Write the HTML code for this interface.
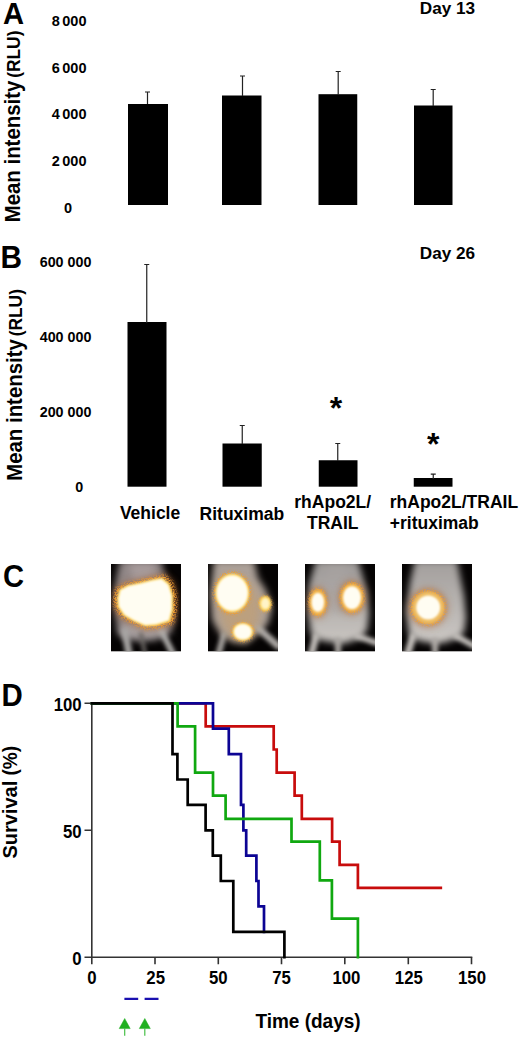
<!DOCTYPE html>
<html><head><meta charset="utf-8">
<style>
html,body{margin:0;padding:0;background:#fff;}
body{width:520px;height:1042px;overflow:hidden;}
svg{display:block;}
text{font-family:"Liberation Sans",sans-serif;font-weight:bold;fill:#000;}
</style></head><body>
<svg width="520" height="1042" viewBox="0 0 520 1042">
<defs>
<filter id="b1" x="-50%" y="-50%" width="200%" height="200%"><feGaussianBlur stdDeviation="1"/></filter>
<filter id="b2" x="-50%" y="-50%" width="200%" height="200%"><feGaussianBlur stdDeviation="2"/></filter>
<filter id="b3" x="-50%" y="-50%" width="200%" height="200%"><feGaussianBlur stdDeviation="3.5"/></filter>
<filter id="b5" x="-50%" y="-50%" width="200%" height="200%"><feGaussianBlur stdDeviation="5"/></filter>
<filter id="spk" x="-30%" y="-30%" width="160%" height="160%">
<feTurbulence type="fractalNoise" baseFrequency="0.75" numOctaves="1" seed="7" result="n"/>
<feColorMatrix in="n" type="matrix" values="0 0 0 0 0  0 0 0 0 0  0 0 0 0 0  5 0 0 0 -2" result="m"/>
<feGaussianBlur in="SourceGraphic" stdDeviation="1.8" result="g"/>
<feComposite in="g" in2="m" operator="in" result="sp"/>
<feGaussianBlur in="sp" stdDeviation="0.45"/>
</filter>
<linearGradient id="gb3" x1="0" y1="0" x2="0" y2="1"><stop offset="0" stop-color="#9c9896"/><stop offset="0.5" stop-color="#b2aeab"/><stop offset="1" stop-color="#cac6c2"/></linearGradient>
<linearGradient id="gb4" x1="0" y1="0" x2="0" y2="1"><stop offset="0" stop-color="#a29e9c"/><stop offset="0.5" stop-color="#b6b2af"/><stop offset="1" stop-color="#ccc8c4"/></linearGradient>
</defs>

<!-- ============ PANEL A ============ -->
<text transform="translate(3,23.8) scale(0.96,1)" font-size="30.4" text-rendering="geometricPrecision">A</text>
<text transform="translate(419.8,14) scale(1.04,1)" font-size="16.5">Day 13</text>
<text transform="translate(19.7,222.3) rotate(-90) scale(1,1.05)" font-size="20.4">Mean intensity<tspan font-size="17.4" dx="-2"> (RLU)</tspan></text>
<g font-size="14.5" text-anchor="end" word-spacing="-1.5">
<text transform="translate(86.5,25.6)">8 000</text>
<text transform="translate(86.5,72.5)">6 000</text>
<text transform="translate(86.5,119.2)">4 000</text>
<text transform="translate(86.5,166.1)">2 000</text>
<text transform="translate(68,212.9)" text-anchor="middle">0</text>
</g>
<g fill="#000">
<rect x="128" y="104" width="40" height="101"/>
<rect x="222" y="95.5" width="39.5" height="109.5"/>
<rect x="318.5" y="94.2" width="38.75" height="110.8"/>
<rect x="414" y="105.5" width="38.5" height="99.5"/>
</g>
<g stroke="#222" stroke-width="1.2" fill="none">
<path d="M147.5 104V92M145 92H150"/>
<path d="M242.5 96V76M240 76H245"/>
<path d="M338.2 95V71.5M335.7 71.5H340.7"/>
<path d="M433.2 106V89.5M430.7 89.5H435.7"/>
</g>

<!-- ============ PANEL B ============ -->
<text transform="translate(0.6,267.5) scale(0.96,1)" font-size="31">B</text>
<text transform="translate(419.8,258.5) scale(1.04,1)" font-size="16.5">Day 26</text>
<text transform="translate(21.5,480.8) rotate(-90) scale(1,1.05)" font-size="20.4">Mean intensity<tspan font-size="17.4" dx="-2"> (RLU)</tspan></text>
<g font-size="14.3" text-anchor="end">
<text transform="translate(91.4,267.1) scale(1,1.05)">600 000</text>
<text transform="translate(91.4,342.2) scale(1,1.05)">400 000</text>
<text transform="translate(91.4,417.3) scale(1,1.05)">200 000</text>
<text transform="translate(79.2,492) scale(1,1.05)" text-anchor="middle">0</text>
</g>
<g fill="#000">
<rect x="127.5" y="322" width="39" height="164.7"/>
<rect x="222.5" y="443.5" width="39.25" height="43.2"/>
<rect x="318.75" y="460.25" width="38.75" height="26.45"/>
<rect x="413.75" y="478" width="38.75" height="8.7"/>
</g>
<g stroke="#222" stroke-width="1.2" fill="none">
<path d="M146.75 323V264.5M144.25 264.5H149.25"/>
<path d="M242.25 444V425.5M239.75 425.5H244.75"/>
<path d="M337.75 461V443.5M335.25 443.5H340.25"/>
<path d="M433.25 479V474.2M430.75 474.2H435.75"/>
</g>
<g font-size="32" text-anchor="middle">
<text transform="translate(336,419.3)">*</text>
<text transform="translate(433.2,454.5)">*</text>
</g>
<g font-size="17.5">
<text transform="translate(119.9,519.3) scale(1,1.05)">Vehicle</text>
<text transform="translate(199.6,520) scale(1,1.05)">Rituximab</text>
<text transform="translate(332.7,508.3) scale(1,1.05)" text-anchor="middle">rhApo2L/</text>
<text transform="translate(332.7,528.8) scale(1,1.05)" text-anchor="middle">TRAIL</text>
<text transform="translate(389.8,508.2) scale(1,1.05)">rhApo2L/TRAIL</text>
<text transform="translate(389.8,528.9) scale(1,1.05)">+rituximab</text>
</g>

<!-- ============ PANEL C ============ -->
<text transform="translate(2.9,587.2) scale(0.94,1)" font-size="31">C</text>

<!-- image 1 -->
<svg x="111" y="564" width="70" height="87.6" viewBox="0 0 70 87.6">
<rect width="70" height="87.6" fill="#050303"/>
<g filter="url(#b3)">
<path d="M9 -4 L50 -4 L54 12 L60 30 L63 55 L60 70 L50 70 L36 74 L24 72 L14 76 L6 64 L3 44 L4 20Z" fill="#908686"/>
<path d="M18 -4 L42 -4 L44 14 L22 18Z" fill="#a69a9a"/>
<ellipse cx="32" cy="67" rx="26" ry="10" fill="#a49c9c"/>
</g>
<g filter="url(#b2)" fill="none" stroke-linecap="round">
<path d="M14 68 L18 90" stroke="#a8a6a4" stroke-width="7"/>
<path d="M30 70 L34 90" stroke="#6a6664" stroke-width="4"/>
<path d="M50 66 L62 90" stroke="#b0aeac" stroke-width="6"/>
</g>
<path filter="url(#b3)" d="M1.7 33.6 L4.2 23.7 L14.2 18.6 L29.1 15.4 L42.4 12.0 L53.9 10.0 L62.2 16.9 L66.4 30.3 L66.4 46.8 L63.0 60.2 L47.3 65.1 L34.1 65.9 L20.8 60.2 L9.1 53.5 L2.5 43.5Z" fill="#a86030" opacity="0.6"/>
<path filter="url(#spk)" d="M2.3 33.7 L4.7 23.9 L14.5 19.0 L29.2 15.8 L42.2 12.5 L53.6 10.5 L61.7 17.3 L65.8 30.4 L65.8 46.7 L62.5 59.8 L47.1 64.6 L34.1 65.4 L21.0 59.8 L9.6 53.2 L3.1 43.4Z" fill="#f09a2c"/>
<path filter="url(#b1)" d="M6.1 34.2 L8.2 25.6 L16.8 21.2 L29.7 18.4 L41.3 15.5 L51.3 13.8 L58.4 19.8 L62.0 31.3 L62.0 45.7 L59.1 57.2 L45.5 61.5 L34.1 62.2 L22.6 57.2 L12.5 51.4 L6.7 42.8Z" fill="#fdd458"/>
<path filter="url(#b1)" d="M7.5 34.4 L9.5 26.2 L17.7 22.1 L30.0 19.4 L40.9 16.7 L50.4 15.0 L57.2 20.7 L60.6 31.7 L60.6 45.3 L57.8 56.2 L44.9 60.3 L34.1 60.9 L23.1 56.2 L13.6 50.7 L8.1 42.5Z" fill="#fffdf2"/>

</svg>

<!-- image 2 -->
<svg x="208" y="564" width="70" height="87.6" viewBox="0 0 70 87.6">
<rect width="70" height="87.6" fill="#050303"/>
<g filter="url(#b3)">
<path d="M6 -4 L46 -4 L50 14 L58 26 L64 44 L60 60 L50 70 L38 80 L24 78 L12 70 L4 56 L2 30Z" fill="#aca098"/>
</g>
<g filter="url(#b2)" fill="none" stroke-linecap="round">
<path d="M16 70 L10 92" stroke="#a8a4a0" stroke-width="6"/>
<path d="M50 64 L70 82" stroke="#b0aca8" stroke-width="7"/>
</g>
<ellipse filter="url(#b5)" cx="32" cy="46" rx="20" ry="30" fill="#d0a060" opacity="0.45"/>
<ellipse filter="url(#spk)" cx="24.2" cy="29.0" rx="19.1" ry="21.8" fill="#f09a2c"/>
<ellipse filter="url(#b1)" cx="24.2" cy="29.0" rx="16.9" ry="19.2" fill="#fdd458"/>
<ellipse filter="url(#b1)" cx="24.2" cy="29.0" rx="15.7" ry="17.8" fill="#fffdf2"/>
<ellipse filter="url(#spk)" cx="57.3" cy="39.6" rx="6.8" ry="8.6" fill="#f09a2c"/>
<ellipse filter="url(#b1)" cx="57.3" cy="39.6" rx="6.0" ry="7.6" fill="#fdd458"/>
<ellipse filter="url(#b1)" cx="57.3" cy="39.6" rx="4.3" ry="5.5" fill="#fff4c8"/>
<ellipse filter="url(#spk)" cx="34.8" cy="67.8" rx="11.7" ry="10.1" fill="#f09a2c"/>
<ellipse filter="url(#b1)" cx="34.8" cy="67.8" rx="10.3" ry="8.9" fill="#fdd458"/>
<ellipse filter="url(#b1)" cx="34.8" cy="67.8" rx="8.9" ry="7.7" fill="#fffdf2"/>

</svg>

<!-- image 3 -->
<svg x="305" y="564" width="70" height="87.6" viewBox="0 0 70 87.6">
<rect width="70" height="87.6" fill="#050303"/>
<g filter="url(#b3)">
<path d="M11 -4 L53 -4 L57 10 L62 28 L64 50 L62 66 L56 74 L44 78 L36 80 L26 78 L14 76 L6 70 L3 50 L4 20Z" fill="url(#gb3)"/>
<path d="M22 -4 L42 -4 L44 30 L40 50 L26 50 L20 30Z" fill="#a8a4a1" opacity="0.6"/>
</g>
<g filter="url(#b2)" fill="none" stroke-linecap="round">
<path d="M11 72 L6 92" stroke="#c0bcb8" stroke-width="7"/>
<path d="M52 72 L72 79" stroke="#c4c0bc" stroke-width="6"/>
<path d="M33 76 L33 92" stroke="#aca8a4" stroke-width="6"/>
</g>
<path d="M32 10 L32 50" stroke="#8d8985" stroke-width="2.5" filter="url(#b2)"/>
<ellipse filter="url(#b3)" cx="12.8" cy="38.4" rx="10.6" ry="16.1" fill="#a86030" opacity="0.50"/>
<ellipse filter="url(#spk)" cx="12.8" cy="38.4" rx="9.7" ry="14.7" fill="#f09a2c"/>
<ellipse filter="url(#b1)" cx="12.8" cy="38.4" rx="8.5" ry="13.0" fill="#f2b448"/>
<ellipse filter="url(#b1)" cx="12.8" cy="38.4" rx="6.3" ry="9.6" fill="#fffdf2"/>
<ellipse filter="url(#b3)" cx="47.0" cy="33.6" rx="13.9" ry="17.5" fill="#a86030" opacity="0.50"/>
<ellipse filter="url(#spk)" cx="47.0" cy="33.6" rx="12.8" ry="16.1" fill="#f09a2c"/>
<ellipse filter="url(#b1)" cx="47.0" cy="33.6" rx="11.3" ry="14.2" fill="#f2b448"/>
<ellipse filter="url(#b1)" cx="47.0" cy="33.6" rx="9.0" ry="11.4" fill="#fffdf2"/>

</svg>

<!-- image 4 -->
<svg x="402" y="564" width="70" height="87.6" viewBox="0 0 70 87.6">
<rect width="70" height="87.6" fill="#050303"/>
<g filter="url(#b3)">
<path d="M13 -4 L55 -4 L58 12 L62 32 L64 54 L62 68 L56 74 L44 78 L34 80 L24 78 L14 76 L7 70 L4 48 L8 18Z" fill="url(#gb4)"/>
</g>
<g filter="url(#b2)" fill="none" stroke-linecap="round">
<path d="M11 72 L5 92" stroke="#c4c0bc" stroke-width="7"/>
<path d="M54 72 L72 82" stroke="#c8c4c0" stroke-width="6"/>
<path d="M33 76 L33 92" stroke="#b0aca8" stroke-width="6"/>
</g>
<ellipse filter="url(#b3)" cx="26.2" cy="43.6" rx="19.9" ry="19.9" fill="#a86030" opacity="0.50"/>
<ellipse filter="url(#spk)" cx="26.2" cy="43.6" rx="18.3" ry="18.3" fill="#f09a2c"/>
<ellipse filter="url(#b1)" cx="26.2" cy="43.6" rx="16.1" ry="16.1" fill="#eebc60"/>
<ellipse filter="url(#b1)" cx="26.2" cy="43.6" rx="12.0" ry="12.0" fill="#fffdf2"/>

</svg>

<!-- ============ PANEL D ============ -->
<text transform="translate(1.6,706.1) scale(0.95,1)" font-size="31">D</text>
<text transform="translate(16.5,858.6) rotate(-90) scale(1,1.05)" font-size="20">Survival<tspan font-size="19"> (%)</tspan></text>
<g font-size="16.8" text-anchor="end">
<text transform="translate(81.7,710.7) scale(1,1.05)">100</text>
<text transform="translate(81.7,838) scale(1,1.05)">50</text>
<text transform="translate(81.7,965) scale(1,1.05)">0</text>
</g>
<g font-size="16.8" text-anchor="middle">
<text transform="translate(92,984.2) scale(1,1.05)">0</text>
<text transform="translate(155.7,984.2) scale(1,1.05)">25</text>
<text transform="translate(218.3,984.2) scale(1,1.05)">50</text>
<text transform="translate(281.5,984.2) scale(1,1.05)">75</text>
<text transform="translate(346.4,984.2) scale(1,1.05)">100</text>
<text transform="translate(408.8,984.2) scale(1,1.05)">125</text>
<text transform="translate(472,984.2) scale(1,1.05)">150</text>
</g>
<text transform="translate(255.4,1027.7) scale(1,1.05)" font-size="19">Time (days)</text>

<g stroke="#333" stroke-width="1.6" fill="none">
<path d="M91.8 702V964.3"/>
<path d="M91 957.3H472.3"/>
<path d="M84.5 703.3H91.8M84.5 830.2H91.8M84.5 957.3H91.8"/>
<path d="M155 957.3V964.3M218.3 957.3V964.3M281.5 957.3V964.3M344.8 957.3V964.3M408.3 957.3V964.3M471.5 957.3V964.3"/>
</g>

<g fill="none" stroke-width="2.7" stroke-linejoin="miter" stroke-linecap="square">
<path stroke="#c80c0c" d="M92 703.3H205.7V726.4H273.7V749.5H276.7V772.6H294.6V795.7H301.8V818.8H332.1V841.7H339.6V864.8H357.9V887.9H440.8"/>
<path stroke="#0c0494" d="M92 703.3H213V728.7H228.8V754.1H241V804.9H243.4V830.3H246.2V855.6H256.4V881H258.5V906.4H264V931.8"/>
<path stroke="#10a810" d="M92 703.3H177.6V726.4H195.1V772.6H213V795.7H225.6V818.8H291.5V841.7H319.8V880.3H331.9V918.7H357.9V957.2"/>
<path stroke="#000" d="M92 703.3H172.5V754.1H177.4V779.5H187.7V804.9H205.6V830.3H212.8V855.6H220.8V881H233.3V931.8H284.4V957.2"/>
</g>

<!-- treatment marks -->
<g stroke="#1a10b0" stroke-width="2.2">
<path d="M124.4 998.8H138.2M144.6 998.8H158.5"/>
</g>
<g fill="#20b020" stroke="#20b020">
<path d="M124.7 1018.5L130.2 1028.6H119.2Z" stroke-width="0.5"/>
<path d="M144.8 1018.5L150.3 1028.6H139.3Z" stroke-width="0.5"/>
<path d="M124.7 1028V1035.7M144.8 1028V1035.7" stroke="#48c048" stroke-width="1.2" fill="none"/>
</g>
</svg>
</body></html>
